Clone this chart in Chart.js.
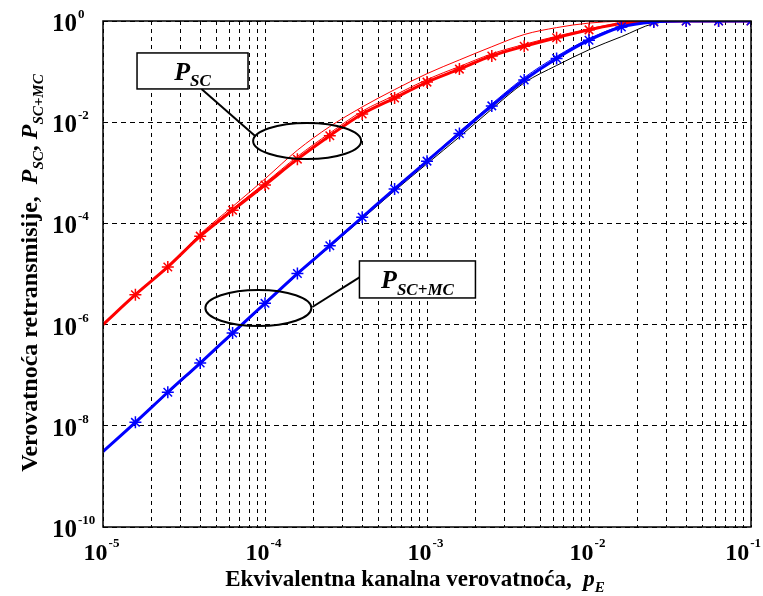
<!DOCTYPE html>
<html>
<head>
<meta charset="utf-8">
<script src="https://cdn.jsdelivr.net/npm/chart.js@4.4.1/dist/chart.umd.min.js"></script>
<style>
  body { margin: 0; background: #fff; }
  #wrap { width: 763px; height: 596px; position: relative; }
</style>
</head>
<body>
<div id="wrap"><canvas id="myChart"></canvas></div>
<script>
// equivalent channel probability p_E (marker positions, 0.2 decade apart)
const pE = [1e-5, 1.585e-5, 2.512e-5, 3.981e-5, 6.31e-5, 1e-4, 1.585e-4, 2.512e-4, 3.981e-4, 6.31e-4,
  1e-3, 1.585e-3, 2.512e-3, 3.981e-3, 6.31e-3, 1e-2, 1.585e-2, 2.512e-2, 3.981e-2, 6.31e-2, 1e-1];

// P_SC, thick red line with asterisks
const pscMarked = [1.0e-6, 3.9e-6, 1.38e-5, 5.6e-5, 1.82e-4, 5.75e-4, 1.86e-3, 5.4e-3, 1.45e-2, 3.0e-2,
  6.2e-2, 0.112, 0.204, 0.316, 0.468, 0.668, 0.891, 0.977, 1, 1, 1];
// P_SC, thin red curves
const pscUpper = [1.02e-6, 4.0e-6, 1.41e-5, 6.2e-5, 2.15e-4, 7.6e-4, 2.8e-3, 8.2e-3, 2.0e-2, 4.4e-2,
  9.1e-2, 0.17, 0.31, 0.54, 0.74, 0.91, 0.99, 1, 1, 1, 1];
const pscMiddle = [1.0e-6, 3.95e-6, 1.42e-5, 5.9e-5, 1.95e-4, 6.3e-4, 2.1e-3, 6.1e-3, 1.65e-2, 3.4e-2,
  7.0e-2, 0.126, 0.225, 0.345, 0.5, 0.7, 0.91, 0.98, 1, 1, 1];

// P_SC+MC, thick blue line with asterisks
const pscmcMarked = [3.1e-9, 1.17e-8, 4.6e-8, 1.74e-7, 6.8e-7, 2.63e-6, 1.02e-5, 3.63e-5, 1.32e-4, 4.8e-4,
  1.7e-3, 6.0e-3, 2.1e-2, 6.8e-2, 0.182, 0.417, 0.76, 0.955, 1, 1, 1];
// P_SC+MC, thin blue and black curves
const pscmcThin = [3.15e-9, 1.19e-8, 4.7e-8, 1.77e-7, 6.9e-7, 2.68e-6, 1.04e-5, 3.7e-5, 1.35e-4, 4.9e-4,
  1.75e-3, 6.5e-3, 2.3e-2, 7.6e-2, 0.2, 0.447, 0.79, 0.977, 1, 1, 1];
const pscmcBlack = [3.0e-9, 1.15e-8, 4.4e-8, 1.66e-7, 6.5e-7, 2.5e-6, 9.8e-6, 3.47e-5, 1.23e-4, 4.4e-4,
  1.51e-3, 5.1e-3, 1.82e-2, 6.0e-2, 0.132, 0.27, 0.49, 0.89, 1, 1, 1];

const xDecades = [1e-5, 1e-4, 1e-3, 1e-2, 1e-1];
const xExponents = [-5, -4, -3, -2, -1];
const yDecades = [1e-10, 1e-8, 1e-6, 1e-4, 1e-2, 1];
const yExponents = [-10, -8, -6, -4, -2, 0];

// annotation anchors (data coordinates)
const labelSC = { box: [3.57e-5, 0.103], ellipse: [1.82e-4, 4.26e-3] };
const labelSCMC = { box: [8.73e-4, 7.8e-6], ellipse: [9.1e-5, 2.13e-6] };

const FONT = '"Liberation Serif", "Times New Roman", serif';

let xGrid = [];
for (let i = 0; i < xDecades.length - 1; i++) {
  for (let m = 1; m < 10; m++) xGrid.push(xDecades[i] * m);
}
xGrid.push(xDecades[xDecades.length - 1]);

function series(values) {
  return values.map((v, i) => ({ x: pE[i], y: v }));
}

function drawPower(ctx, exp, x, y, align, size, maxRight) {
  let base = "10";
  let sup = String(exp);
  let big = "bold " + size + "px " + FONT;
  let small = "bold 13px " + FONT;
  ctx.font = big;
  let wb = ctx.measureText(base).width;
  ctx.font = small;
  let ws = ctx.measureText(sup).width;
  let x0 = align === "left" ? x : x - (wb + ws) / 2;
  if (maxRight && x0 + wb + ws + 1 > maxRight) x0 = maxRight - wb - ws - 1;
  ctx.textAlign = "left";
  ctx.textBaseline = "alphabetic";
  ctx.font = big;
  ctx.fillText(base, x0, y);
  ctx.font = small;
  ctx.fillText(sup, x0 + wb + 1, y - 13);
}

// draws mixed text runs: [text, italic, sub]
function drawRuns(ctx, runs, cx, cy, size, subSize) {
  let total = 0;
  let widths = runs.map((r) => {
    ctx.font = "bold " + (r[1] ? "italic " : "") + (r[2] ? subSize : size) + "px " + FONT;
    let w = ctx.measureText(r[0]).width;
    total += w;
    return w;
  });
  let x = cx - total / 2;
  ctx.textAlign = "left";
  ctx.textBaseline = "alphabetic";
  runs.forEach((r, i) => {
    ctx.font = "bold " + (r[1] ? "italic " : "") + (r[2] ? subSize : size) + "px " + FONT;
    ctx.fillText(r[0], x, cy + (r[2] ? size * 0.25 : 0));
    x += widths[i];
  });
}

function drawLabel(chart, spec, runs, w, h, leadFrom, leadTo, rx, ry) {
  let ctx = chart.ctx;
  let xs = chart.scales.x, ys = chart.scales.y;
  let bx = xs.getPixelForValue(spec.box[0]), by = ys.getPixelForValue(spec.box[1]);
  let ex = xs.getPixelForValue(spec.ellipse[0]), ey = ys.getPixelForValue(spec.ellipse[1]);
  ctx.save();
  ctx.strokeStyle = "#000";
  ctx.lineWidth = 2;
  ctx.beginPath();
  ctx.ellipse(ex, ey, rx, ry, 0, 0, Math.PI * 2);
  ctx.stroke();
  ctx.beginPath();
  ctx.moveTo(bx + leadFrom[0], by + leadFrom[1]);
  ctx.lineTo(ex + leadTo[0], ey + leadTo[1]);
  ctx.stroke();
  ctx.fillStyle = "#fff";
  ctx.fillRect(bx - w / 2, by - h / 2, w, h);
  ctx.lineWidth = 1.5;
  ctx.strokeRect(bx - w / 2, by - h / 2, w, h);
  ctx.fillStyle = "#000";
  drawRuns(ctx, runs, bx, by + 9, 26, 17);
  ctx.restore();
}

const decorations = {
  id: "decorations",
  beforeDraw(chart) {
    let ctx = chart.ctx;
    ctx.save();
    ctx.fillStyle = "#fff";
    ctx.fillRect(0, 0, chart.width, chart.height);
    ctx.restore();
  },
  afterDatasetsDraw(chart) {
    let ctx = chart.ctx;
    let a = chart.chartArea;
    ctx.save();
    ctx.strokeStyle = "#000";
    ctx.lineWidth = 1.5;
    ctx.strokeRect(a.left, a.top, a.right - a.left, a.bottom - a.top);
    ctx.restore();

    drawLabel(chart, labelSC, [["P", true, false], ["SC", true, true]], 111, 36, [9, 18], [-52, -5], 54, 18);
    drawLabel(chart, labelSCMC, [["P", true, false], ["SC+MC", true, true]], 116, 37, [-58, -2], [54, -1], 53, 18);
  },
  afterDraw(chart) {
    let ctx = chart.ctx;
    let xs = chart.scales.x, ys = chart.scales.y;
    ctx.save();
    ctx.fillStyle = "#000";
    xDecades.forEach((v, i) => drawPower(ctx, xExponents[i], xs.getPixelForValue(v) - 2, 560, "center", 24, 761));
    yDecades.forEach((v, i) => drawPower(ctx, yExponents[i], 52, ys.getPixelForValue(v) + 10, "left", 25));

    drawRuns(ctx, [["Ekvivalentna kanalna verovatnoća,  ", false, false], ["p", true, false], ["E", true, true]],
      415, 586, 23, 15);

    ctx.translate(37, 273);
    ctx.rotate(-Math.PI / 2);
    drawRuns(ctx, [["Verovatnoća retransmisije,  ", false, false], ["P", true, false], ["SC", true, true],
      [", ", false, false], ["P", true, false], ["SC+MC", true, true]], 0, 0, 24, 15);
    ctx.restore();
  },
};

function thinLine(values, color, order) {
  return {
    data: series(values),
    borderColor: color,
    borderWidth: 1,
    pointRadius: 0,
    cubicInterpolationMode: "monotone",
    order: order,
  };
}

function markedLine(values, color, order) {
  return {
    data: series(values),
    borderColor: color,
    backgroundColor: color,
    borderWidth: 3,
    pointStyle: "star",
    pointRadius: (c) => (c.dataIndex === 0 ? 0 : 6),
    pointBorderWidth: 1.5,
    pointBorderColor: color,
    cubicInterpolationMode: "monotone",
    order: order,
  };
}

new Chart(document.getElementById("myChart"), {
  type: "line",
  data: {
    datasets: [
      markedLine(pscmcMarked, "#0000ff", 0),
      markedLine(pscMarked, "#ff0000", 1),
      thinLine(pscmcThin, "#0000ff", 2),
      thinLine(pscmcBlack, "#000000", 3),
      thinLine(pscMiddle, "#ff0000", 4),
      thinLine(pscUpper, "#ff0000", 5),
    ],
  },
  options: {
    responsive: true,
    maintainAspectRatio: false,
    animation: false,
    layout: { padding: { left: 103, right: 12, top: 21, bottom: 69 } },
    scales: {
      x: {
        type: "logarithmic",
        min: 1e-5,
        max: 1e-1,
        afterBuildTicks: (scale) => {
          scale.ticks = xGrid.map((v) => ({ value: v }));
        },
        ticks: { display: false },
        grid: { color: "#000", lineWidth: 1, drawTicks: false },
        border: { display: false, dash: [4, 4] },
      },
      y: {
        type: "logarithmic",
        min: 1e-10,
        max: 1,
        afterBuildTicks: (scale) => {
          scale.ticks = yDecades.map((v) => ({ value: v }));
        },
        ticks: { display: false },
        grid: { color: "#000", lineWidth: 1, drawTicks: false },
        border: { display: false, dash: [5, 4] },
      },
    },
    plugins: {
      legend: { display: false },
      tooltip: { enabled: false },
    },
  },
  plugins: [decorations],
});
</script>
</body>
</html>
